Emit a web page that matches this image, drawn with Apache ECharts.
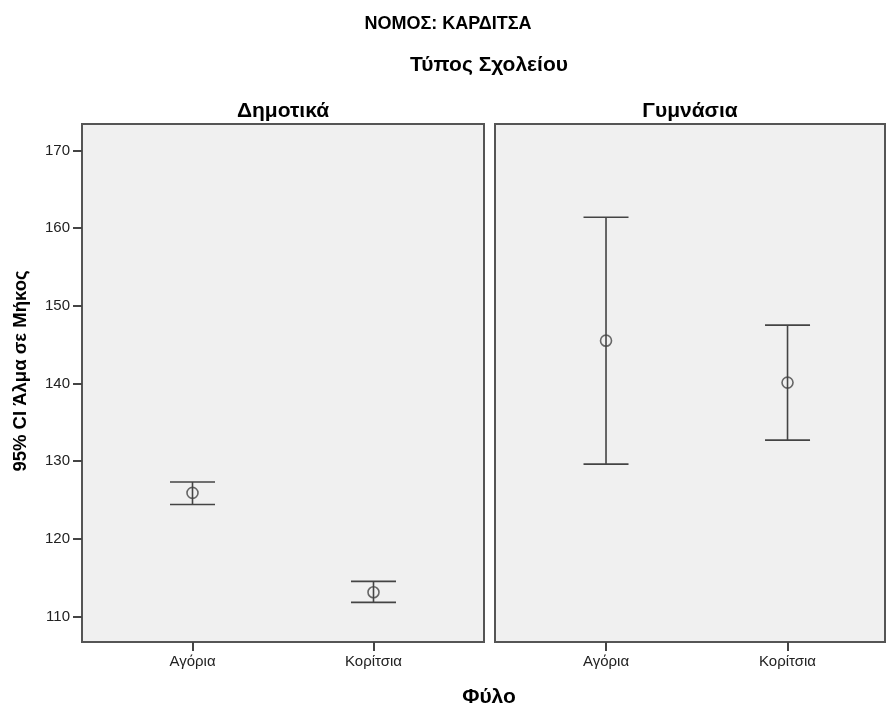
<!DOCTYPE html>
<html>
<head>
<meta charset="utf-8">
<script src="https://cdn.jsdelivr.net/npm/echarts@6/dist/echarts.min.js"></script>
<style>
html,body{margin:0;padding:0;background:#fff;}
#main{width:886px;height:706px;}
</style>
</head>
<body>
<div id="main"></div>
<script>
const chartTitle = 'ΝΟΜΟΣ: ΚΑΡΔΙΤΣΑ';
const panelTitle = 'Τύπος Σχολείου';
const schoolTypes = ['Δημοτικά', 'Γυμνάσια'];
const categories = ['Αγόρια', 'Κορίτσια'];
const yName = '95% CI Άλμα σε Μήκος';
const xName = 'Φύλο';
const yTicks = [110, 120, 130, 140, 150, 160, 170];

const demMean  = [125.9, 113.1];
const demLower = [124.4, 111.8];
const demUpper = [127.3, 114.5];

const gymMean  = [145.5, 140.1];
const gymLower = [129.6, 132.7];
const gymUpper = [161.4, 147.5];

const FONT = 'Liberation Sans, Arial, sans-serif';
const LINE = '#444';

function ebData(lo, hi) { return categories.map((c, i) => [i, lo[i], hi[i]]); }
function ptData(m) { return categories.map((c, i) => [i, m[i]]); }

function renderEB(params, api) {
  const x = api.value(0), lo = api.value(1), hi = api.value(2);
  const a = api.coord([x, hi]), b = api.coord([x, lo]);
  const hw = 22.5;
  const st = { stroke: LINE, lineWidth: 1.6 };
  return { type: 'group', children: [
    { type: 'line', shape: { x1: a[0], y1: a[1], x2: b[0], y2: b[1] }, style: st },
    { type: 'line', shape: { x1: a[0]-hw, y1: a[1], x2: a[0]+hw, y2: a[1] }, style: st },
    { type: 'line', shape: { x1: b[0]-hw, y1: b[1], x2: b[0]+hw, y2: b[1] }, style: st }
  ]};
}

const yMin = 106.7, yMax = 173.4;

function xAxis(gi, xmin, xmax) {
  return {
    type: 'value', gridIndex: gi, min: xmin, max: xmax,
    splitLine: { show: false },
    axisLine: { show: true, onZero: false, lineStyle: { color: '#555', width: 2 } },
    axisTick: { show: true, customValues: [0, 1], length: 9, lineStyle: { color: '#444', width: 2 } },
    axisLabel: { show: true, customValues: [0, 1], formatter: v => categories[Math.round(v)] || '',
      color: '#222', fontFamily: FONT, fontSize: 15, margin: 12 }
  };
}
function yAxis(gi, labels) {
  return {
    type: 'value', gridIndex: gi, min: yMin, max: yMax,
    splitLine: { show: false },
    axisLine: { show: true, onZero: false, lineStyle: { color: '#555', width: 2 } },
    axisTick: { show: labels, customValues: yTicks, length: 9, lineStyle: { color: '#444', width: 2 } },
    axisLabel: { show: labels, customValues: yTicks, color: '#222', fontFamily: FONT, fontSize: 15, margin: 12 }
  };
}

function txt(s, x, y, size, rot) {
  return { type: 'text', x: x, y: y, rotation: rot || 0,
    style: { text: s, fill: '#000', font: 'bold ' + size + 'px ' + FONT, textAlign: 'center', textVerticalAlign: 'middle' } };
}

const chart = echarts.init(document.getElementById('main'), null, { renderer: 'canvas' });
chart.setOption({
  animation: false,
  backgroundColor: '#fff',
  graphic: [
    txt(chartTitle, 448, 24, 18),
    txt(panelTitle, 489, 65, 21),
    txt(schoolTypes[0], 283, 111, 21),
    txt(schoolTypes[1], 690, 111, 21),
    txt(xName, 489, 697, 21),
    txt(yName, 21, 371, 18.5, Math.PI / 2)
  ],
  grid: [
    { left: 82, top: 124, width: 402, height: 518, show: true, backgroundColor: '#f0f0f0', borderColor: '#555', borderWidth: 2 },
    { left: 495, top: 124, width: 390, height: 518, show: true, backgroundColor: '#f0f0f0', borderColor: '#555', borderWidth: 2 }
  ],
  xAxis: [xAxis(0, -0.6105, 1.6105), xAxis(1, -0.6116, 1.537)],
  yAxis: [yAxis(0, true), yAxis(1, false)],
  series: [
    { type: 'custom', xAxisIndex: 0, yAxisIndex: 0, renderItem: renderEB, data: ebData(demLower, demUpper), encode: { x: 0, y: [1, 2] }, silent: true },
    { type: 'custom', xAxisIndex: 1, yAxisIndex: 1, renderItem: renderEB, data: ebData(gymLower, gymUpper), encode: { x: 0, y: [1, 2] }, silent: true },
    { type: 'scatter', xAxisIndex: 0, yAxisIndex: 0, data: ptData(demMean), symbol: 'circle', symbolSize: 11,
      itemStyle: { color: 'rgba(0,0,0,0)', borderColor: LINE, borderWidth: 1.6 }, z: 5 },
    { type: 'scatter', xAxisIndex: 1, yAxisIndex: 1, data: ptData(gymMean), symbol: 'circle', symbolSize: 11,
      itemStyle: { color: 'rgba(0,0,0,0)', borderColor: LINE, borderWidth: 1.6 }, z: 5 }
  ]
});
</script>
</body>
</html>
